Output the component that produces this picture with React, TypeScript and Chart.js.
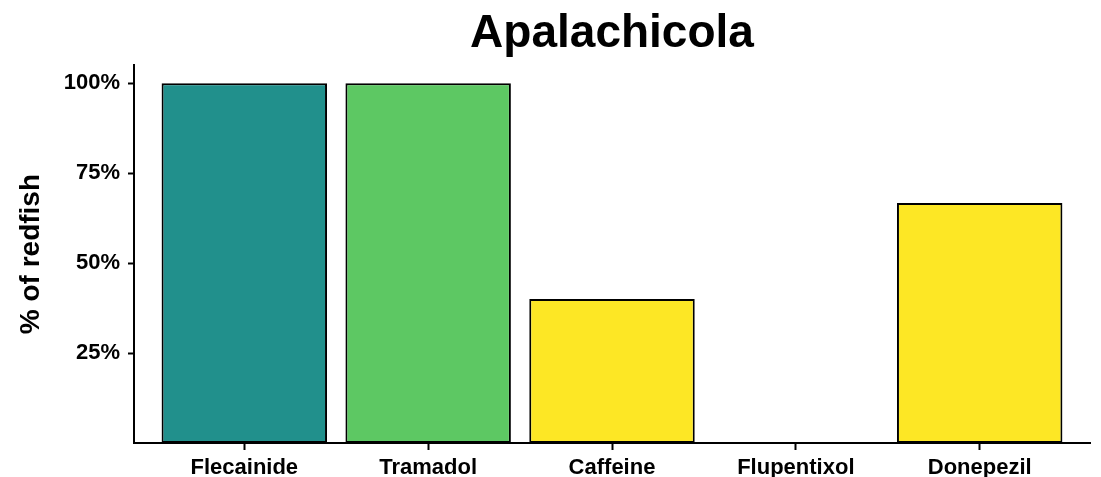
import React, { useEffect, useRef } from "react";
import { Chart, registerables } from "chart.js";

Chart.register(...registerables);

const categories = ["Flecainide", "Tramadol", "Caffeine", "Flupentixol", "Donepezil"];
const percentValues = [100, 100, 40, 0, 66.7];
const barColors = ["#21908C", "#5DC863", "#FDE725", "#FDE725", "#FDE725"];
const yTickValues = [25, 50, 75, 100];
const chartTitle = "Apalachicola";
const yAxisTitle = "% of redfish";

export default function App() {
  const canvasRef = useRef<HTMLCanvasElement | null>(null);

  useEffect(() => {
    if (!canvasRef.current) return;
    const font = "'Liberation Sans', Arial, sans-serif";
    const chart = new Chart(canvasRef.current, {
      type: "bar",
      data: {
        datasets: [
          {
            data: percentValues.map((v, i) => ({ x: i, y: v })),
            backgroundColor: barColors,
            borderColor: "#000000",
            borderWidth: 2,
            borderSkipped: false,
            categoryPercentage: 1,
            barPercentage: 0.9,
          },
        ],
      },
      options: {
        animation: false,
        responsive: true,
        maintainAspectRatio: false,
        layout: { padding: { left: 0, right: 11, top: 0, bottom: 0 } },
        plugins: {
          legend: { display: false },
          tooltip: { enabled: false },
          title: {
            display: true,
            text: chartTitle,
            fullSize: false,
            color: "#000000",
            font: { family: font, size: 46, weight: "bold" },
            padding: { top: 7, bottom: 3 },
          },
        },
        scales: {
          x: {
            type: "linear",
            min: -0.6,
            max: 4.6,
            offset: false,
            afterBuildTicks: (scale: any) => {
              scale.ticks = categories.map((_, i) => ({ value: i }));
            },
            afterFit: (scale: any) => {
              scale.height = 34;
            },
            ticks: {
              color: "#000000",
              font: { family: font, size: 22, weight: "bold" },
              padding: 5,
              maxRotation: 0,
              autoSkip: false,
              callback: (v: any) => categories[Math.round(Number(v))] ?? "",
            },
            grid: {
              offset: false,
              drawOnChartArea: false,
              drawTicks: true,
              tickLength: 7,
              tickColor: "#000000",
              tickWidth: 2,
            },
            border: { display: true, color: "#000000", width: 2 },
          },
          y: {
            type: "linear",
            min: 0,
            max: 105,
            afterBuildTicks: (scale: any) => {
              scale.ticks = yTickValues.map((v) => ({ value: v }));
            },
            afterFit: (scale: any) => {
              scale.width = 134;
            },
            ticks: {
              color: "#000000",
              font: { family: font, size: 22, weight: "bold" },
              padding: 8,
              callback: (v: any) => `${v}%`,
            },
            grid: {
              drawOnChartArea: false,
              drawTicks: true,
              tickLength: 6,
              tickColor: "#000000",
              tickWidth: 2,
            },
            border: { display: true, color: "#000000", width: 2 },
            title: {
              display: true,
              text: yAxisTitle,
              color: "#000000",
              font: { family: font, size: 28, weight: "bold" },
              padding: { top: 14, bottom: 0 },
            },
          },
        },
      },
    });
    return () => chart.destroy();
  }, []);

  return (
    <div style={{ position: "fixed", left: 0, top: 0, width: 1101, height: 477, background: "#ffffff" }}>
      <canvas ref={canvasRef} />
    </div>
  );
}
